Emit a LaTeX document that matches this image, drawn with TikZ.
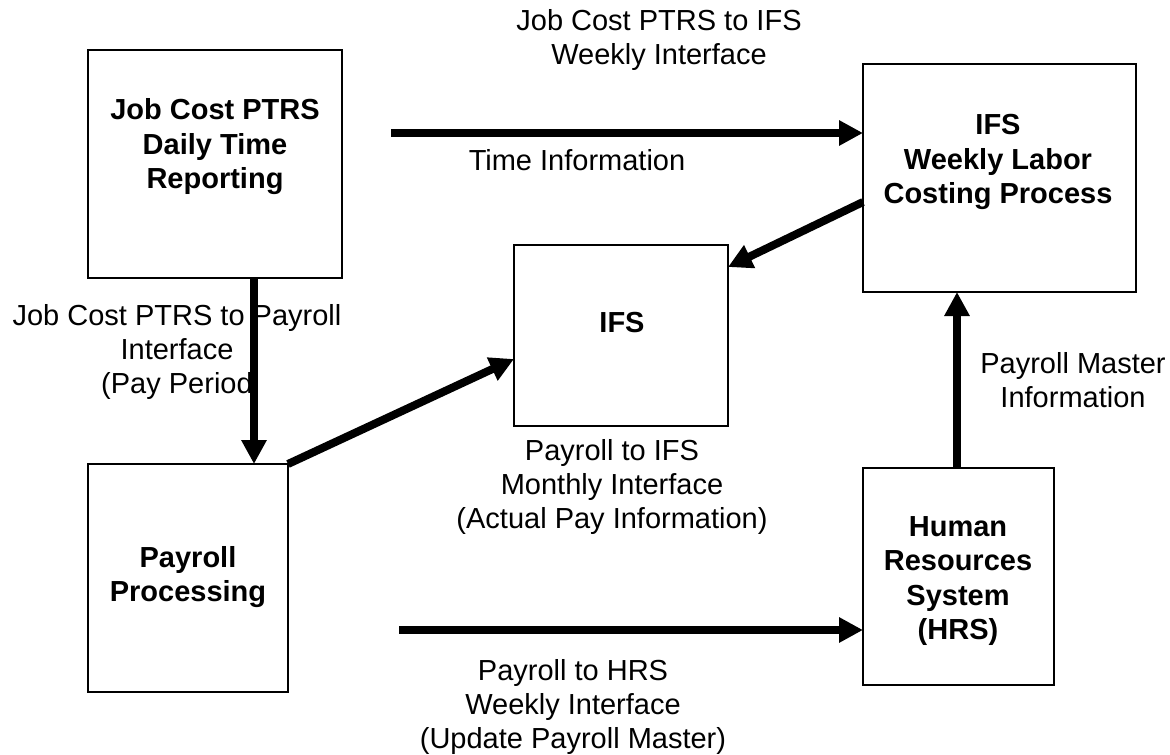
\documentclass[tikz,border=0pt]{standalone}
\usepackage{fontspec}
\setmainfont{Liberation Sans}
\usetikzlibrary{arrows.meta}
\begin{document}
\begin{tikzpicture}[x=1pt,y=-1pt,
  boxnode/.style={draw=black,line width=2pt,fill=none,inner sep=0pt,outer sep=0pt},
  boxtext/.style={align=center,inner sep=0pt,font=\fontsize{29}{34.5}\selectfont\bfseries},
  flowtext/.style={align=center,inner sep=0pt,font=\fontsize{29}{34}\selectfont},
  flow/.style={line width=8pt,-{Triangle[length=24pt,width=24pt]}}]
\useasboundingbox (0,0) rectangle (1170,755);
% boxes
\node[boxnode,minimum width=254pt,minimum height=228pt] (jc) at (215,164) {};
\node[boxnode,minimum width=200pt,minimum height=228pt] (pp) at (188,578) {};
\node[boxnode,minimum width=214pt,minimum height=181pt] (ifs) at (621,335.5) {};
\node[boxnode,minimum width=273pt,minimum height=228pt] (ifsw) at (999.5,178) {};
\node[boxnode,minimum width=191pt,minimum height=217pt] (hrs) at (958.5,576.5) {};
% box texts
\node[boxtext] (jct) at (215,147) {Job Cost PTRS\\Daily Time\\Reporting};
\node[boxtext] (ppt) at (188,577) {Payroll\\Processing};
\node[boxtext] (ifst) at (622,323) {IFS};
\node[boxtext] (ifswt) at (998,162) {IFS\\Weekly Labor\\Costing Process};
\node[boxtext] (hrst) at (958,581) {Human\\Resources\\System\\(HRS)};
% connector labels
\node[flowtext] (l1) at (659,40) {Job Cost PTRS to IFS\\Weekly Interface};
\node[flowtext] (l2) at (577,160) {Time Information};
\node[flowtext] (l3) at (177,352) {Job Cost PTRS to Payroll\\Interface\\(Pay Period};
\node[flowtext] (l4) at (612,487) {Payroll to IFS\\Monthly Interface\\(Actual Pay Information)};
\node[flowtext] (l5) at (573,707) {Payroll to HRS\\Weekly Interface\\(Update Payroll Master)};
\node[flowtext] (l6) at (1073,380) {Payroll Master\\Information};
% free ends
\coordinate (s1) at (391,133);
\coordinate (s2) at (399,630);
% connectors
\draw[flow] (s1) -- (s1 -| ifsw.west);
\draw[flow] (jc.south -| 254,0) -- (pp.north -| 254,0);
\draw[flow] (pp.north east) -- (ifs.west |- 0,359);
\draw[flow] (ifsw.west |- 0,202) -- (ifs.east |- 0,267);
\draw[flow] (hrs.north -| 957,0) -- (ifsw.south -| 957,0);
\draw[flow] (s2) -- (s2 -| hrs.west);
\end{tikzpicture}
\end{document}
